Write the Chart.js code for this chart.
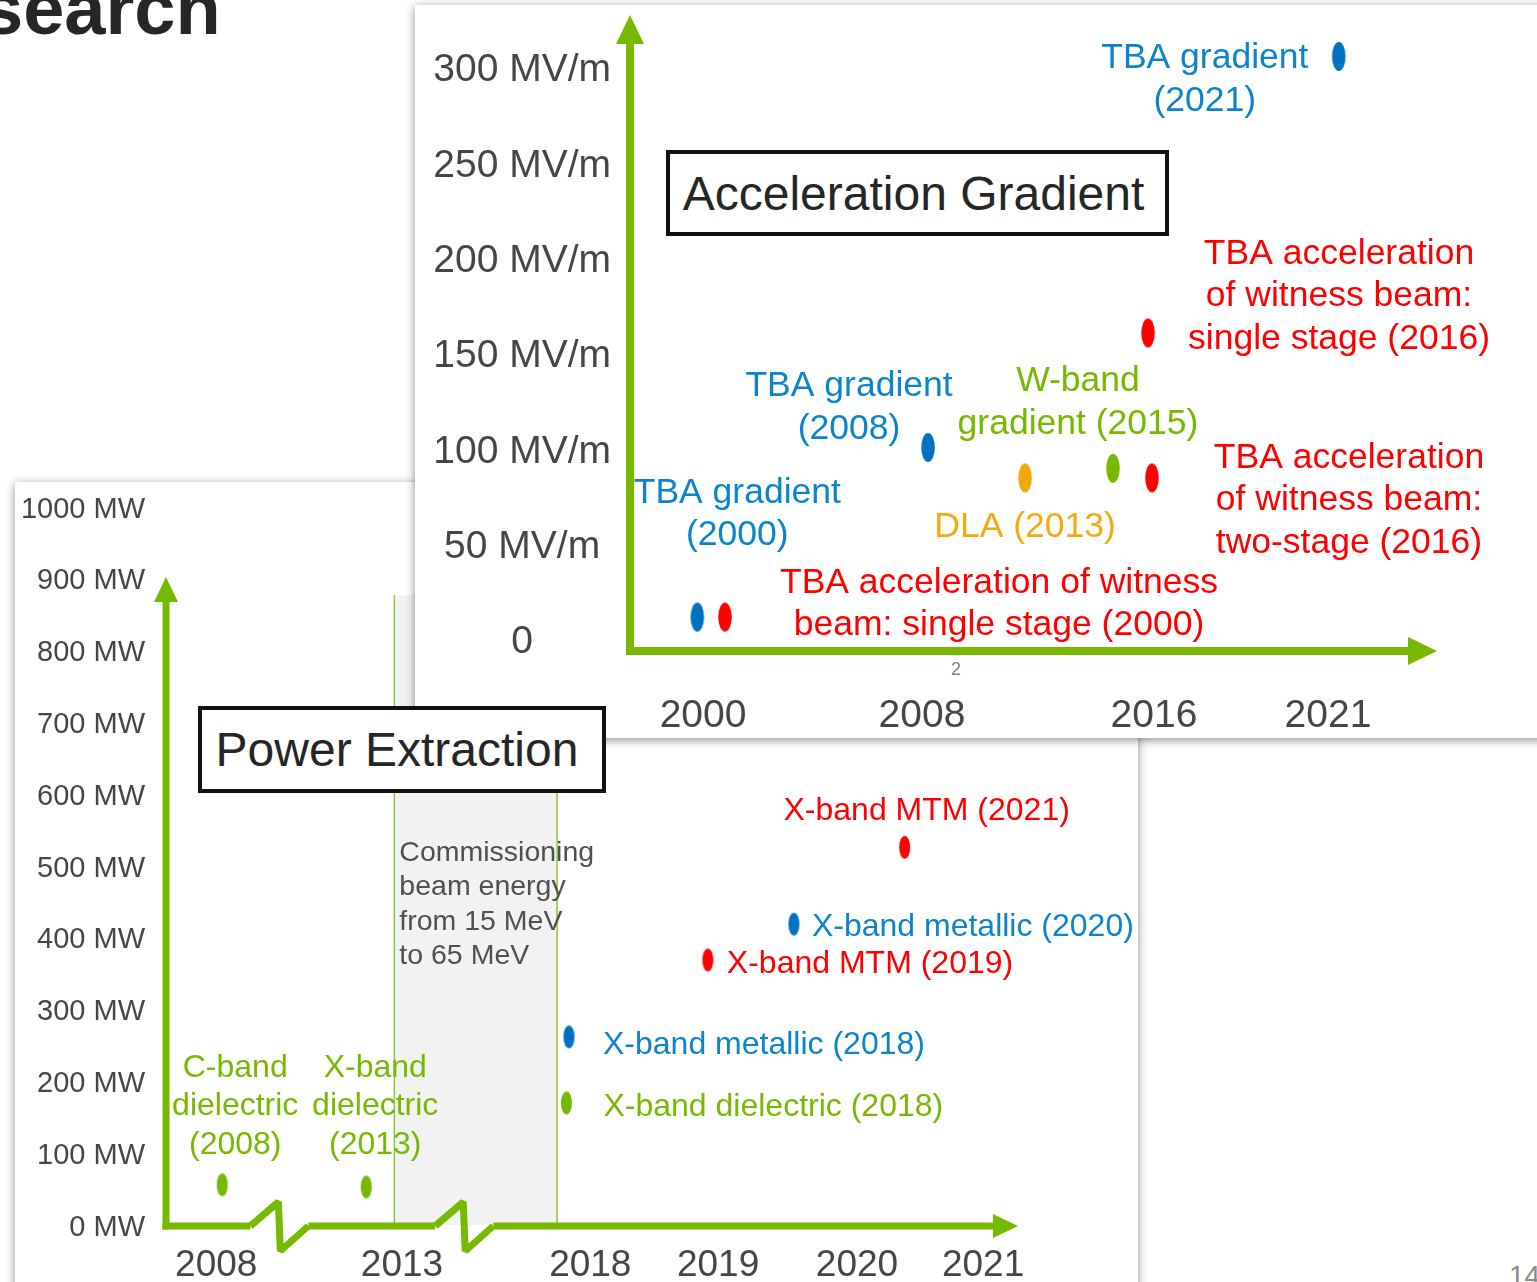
<!DOCTYPE html>
<html>
<head>
<meta charset="utf-8">
<script src="https://cdn.jsdelivr.net/npm/chart.js@4.4.1/dist/chart.umd.min.js"></script>
<style>
  html, body { margin: 0; padding: 0; width: 1537px; height: 1282px; overflow: hidden; background: #fff; }
  body { position: relative; font-family: "Liberation Sans", Arial, Helvetica, sans-serif; }
  .panel { position: absolute; background: #fff; box-shadow: 0 2px 9px rgba(0,0,0,0.45); }
  #powerPanel { left: 15px; top: 482px; width: 1123px; height: 830px; z-index: 1; }
  #gradPanel { left: 415px; top: 5px; width: 1140px; height: 733px; z-index: 2; }
  .panel canvas { position: absolute; left: 0; top: 0; }
  .title { position: absolute; left: -18px; top: -28px; font-weight: bold; font-size: 74px; line-height: 74px; color: #262626; white-space: nowrap; }
  .pageno { position: absolute; left: 1509px; top: 1262px; font-size: 28px; line-height: 28px; color: #8c8c8c; }
  .boxed { position: absolute; box-sizing: border-box; border: 4px solid #111; background: #fff;
           display: flex; align-items: center; justify-content: center; font-size: 48px; color: #262626; white-space: nowrap; }
  #powerBox { left: 198px; top: 706px; width: 408px; height: 87px; z-index: 3; padding-right: 10px; }
  #gradBox { left: 251px; top: 145px; width: 503px; height: 86px; z-index: 3; padding-right: 8px; }
  .slideno { position: absolute; left: 536px; top: 654px; width: 10px; text-align: center; font-size: 18px; line-height: 20px; color: #7f7f7f; }
</style>
</head>
<body>
<div class="title">search</div>
<div class="pageno">14</div>

<div id="powerPanel" class="panel"><canvas id="power" width="1123" height="800"></canvas></div>
<div id="powerBox" class="boxed">Power Extraction</div>

<div id="gradPanel" class="panel">
  <canvas id="gradient" width="1140" height="733"></canvas>
  <div id="gradBox" class="boxed">Acceleration Gradient</div>
  <div class="slideno">2</div>
</div>

<script>
// ---------- Power extraction milestones ----------
const powerNotes = [
  'C-band\ndielectric\n(2008)',
  'X-band\ndielectric\n(2013)',
  'X-band dielectric (2018)',
  'X-band metallic (2018)',
  'X-band MTM (2019)',
  'X-band metallic (2020)',
  'X-band MTM (2021)'
];
const powerKinds = ['dielectric', 'dielectric', 'dielectric', 'metallic', 'mtm', 'metallic', 'mtm'];
const powerTimeline = [6.6, 23.5, 47.0, 47.3, 63.6, 73.7, 86.7];   // position along the broken time axis
const powerMW = [56, 53, 170, 262, 369, 419, 526];
const powerYears = ['2008', '2013', '2018', '2019', '2020', '2021'];
const powerYearAt = [5.9, 27.7, 49.8, 64.8, 81.1, 95.9];
const powerTicks = [0, 100, 200, 300, 400, 500, 600, 700, 800, 900, 1000];
const powerTickLabels = ['0 MW', '100 MW', '200 MW', '300 MW', '400 MW', '500 MW', '600 MW', '700 MW', '800 MW', '900 MW', '1000 MW'];
const axisBreaksAt = [9.9, 31.6];
const commissioningSpan = [26.8, 45.9];
const commissioningTopMW = 877;
const commissioningText = ['Commissioning', 'beam energy', 'from 15 MeV', 'to 65 MeV'];

// ---------- Acceleration gradient milestones ----------
const gradNotes = [
  'TBA gradient\n(2000)',
  'TBA acceleration of witness\nbeam: single stage (2000)',
  'TBA gradient\n(2008)',
  'DLA (2013)',
  'W-band\ngradient (2015)',
  'TBA acceleration\nof witness beam:\ntwo-stage (2016)',
  'TBA acceleration\nof witness beam:\nsingle stage (2016)',
  'TBA gradient\n(2021)'
];
const gradKinds = ['tba', 'witness', 'tba', 'dla', 'wband', 'witness', 'witness', 'tba'];
const gradTimeline = [8.34, 11.77, 36.93, 48.95, 59.85, 64.68, 64.19, 87.83];
const gradMVm = [12, 12, 101, 85, 90, 85, 161, 306];
const gradYears = ['2000', '2008', '2016', '2021'];
const gradYearAt = [9.05, 36.18, 64.93, 86.49];
const gradTicks = [0, 50, 100, 150, 200, 250, 300];
const gradTickLabels = ['0', '50 MV/m', '100 MV/m', '150 MV/m', '200 MV/m', '250 MV/m', '300 MV/m'];

// ---------- styling ----------
const FAMILY = "'Liberation Sans', Arial, Helvetica, sans-serif";
Chart.defaults.font.family = FAMILY;
const GREEN = '#76b900';
const AXIS_TEXT = '#464646';
const kindStyle = {
  dielectric: { dot: GREEN, text: GREEN },
  metallic:   { dot: '#0070c0', text: '#0c84cc' },
  mtm:        { dot: '#ff0000', text: '#ff0000' },
  tba:        { dot: '#0070c0', text: '#0c84cc' },
  witness:    { dot: '#ff0000', text: '#ff0000' },
  dla:        { dot: '#f2a50c', text: '#f5aa10' },
  wband:      { dot: GREEN, text: GREEN }
};

// note placement relative to its mark: anchor offset (px) and text alignment
const powerNoteLayout = [
  { dx: 13, dy: -117, align: 'center' },
  { dx: 9, dy: -119, align: 'center' },
  { dx: 37, dy: 4, align: 'left' },
  { dx: 34, dy: 8, align: 'left' },
  { dx: 19, dy: 4, align: 'left' },
  { dx: 18, dy: 3, align: 'left' },
  { dx: 22, dy: -36, align: 'center' }
];
const gradNoteLayout = [
  { dx: 40, dy: -124, align: 'center' },
  { dx: 274, dy: -34, align: 'center' },
  { dx: -79, dy: -61, align: 'center' },
  { dx: 0, dy: 49, align: 'center' },
  { dx: -35, dy: -87, align: 'center' },
  { dx: 197, dy: -20, align: 'center' },
  { dx: 191, dy: -79, align: 'center' },
  { dx: -134, dy: 2, align: 'center' }
];

// elliptical marker images
function makeDot(color, w, h) {
  const c = document.createElement('canvas');
  c.width = Math.ceil(w) + 2; c.height = Math.ceil(h) + 2;
  const g = c.getContext('2d');
  g.fillStyle = color;
  g.beginPath();
  g.ellipse(c.width / 2, c.height / 2, w / 2, h / 2, 0, 0, Math.PI * 2);
  g.fill();
  return c;
}
function dotSet(w, h) {
  const out = {};
  Object.keys(kindStyle).forEach(k => out[k] = makeDot(kindStyle[k].dot, w, h));
  return out;
}
const powerDots = dotSet(11, 23);
const gradDots = dotSet(13.5, 29);

function notesPlugin(texts, kinds, layout, size, lineHeight) {
  return {
    id: 'notes',
    afterDatasetsDraw(chart) {
      const ctx = chart.ctx;
      const pts = chart.getDatasetMeta(0).data;
      ctx.save();
      ctx.font = size + 'px ' + FAMILY;
      ctx.textBaseline = 'middle';
      texts.forEach((t, i) => {
        const p = pts[i], L = layout[i];
        ctx.fillStyle = kindStyle[kinds[i]].text;
        ctx.textAlign = L.align;
        t.split('\n').forEach((line, k) => ctx.fillText(line, p.x + L.dx, p.y + L.dy + k * lineHeight));
      });
      ctx.restore();
    }
  };
}

function arrowHead(ctx, tipX, tipY, dir, len, width) {
  ctx.beginPath();
  if (dir === 'up') {
    ctx.moveTo(tipX, tipY);
    ctx.lineTo(tipX + width / 2, tipY + len);
    ctx.lineTo(tipX - width / 2, tipY + len);
  } else {
    ctx.moveTo(tipX, tipY);
    ctx.lineTo(tipX - len, tipY - width / 2);
    ctx.lineTo(tipX - len, tipY + width / 2);
  }
  ctx.closePath();
  ctx.fill();
}

// green L-shaped axes with arrows (optionally with break marks)
function greenAxesPlugin(cfg) {
  return {
    id: 'greenAxes',
    beforeDatasetsDraw(chart) {
      const { ctx, chartArea: a, scales: { x, y } } = chart;
      const y0 = cfg.baseAtZero ? y.getPixelForValue(0) + cfg.baseShift : a.bottom;
      const xl = a.left;
      const topTip = a.top + cfg.topInset;
      ctx.save();
      ctx.strokeStyle = GREEN; ctx.fillStyle = GREEN;
      ctx.lineWidth = cfg.lw; ctx.lineCap = 'butt'; ctx.lineJoin = 'miter'; ctx.miterLimit = 2;
      // vertical shaft
      ctx.beginPath();
      ctx.moveTo(xl, y0 + cfg.lw / 2);
      ctx.lineTo(xl, topTip + cfg.headLen - 1);
      ctx.stroke();
      arrowHead(ctx, xl, topTip, 'up', cfg.headLen, cfg.headW);
      // horizontal shaft
      ctx.beginPath();
      ctx.moveTo(xl - cfg.lw / 2, y0);
      (cfg.breaks || []).forEach(b => {
        const bx = x.getPixelForValue(b);
        ctx.lineTo(bx, y0);
        ctx.stroke();
        ctx.beginPath();
        ctx.moveTo(bx, y0);
        ctx.lineTo(bx + 28, y0 - 24);
        ctx.lineTo(bx + 30, y0 + 25);
        ctx.lineTo(bx + 58, y0);
        ctx.stroke();
        ctx.beginPath();
        ctx.moveTo(bx + 58, y0);
      });
      ctx.lineTo(a.right - cfg.headLen + 1, y0);
      ctx.stroke();
      arrowHead(ctx, a.right, y0, 'right', cfg.headLen, cfg.headW);
      ctx.restore();
    }
  };
}

// shaded commissioning period
const commissioningPlugin = {
  id: 'commissioning',
  beforeDatasetsDraw(chart) {
    const { ctx, scales: { x, y } } = chart;
    const l = x.getPixelForValue(commissioningSpan[0]);
    const r = x.getPixelForValue(commissioningSpan[1]);
    const t = y.getPixelForValue(commissioningTopMW);
    const b = y.getPixelForValue(0);
    ctx.save();
    ctx.fillStyle = '#f2f2f2';
    ctx.fillRect(l, t, r - l, b - t);
    ctx.strokeStyle = '#8cc43a';
    ctx.lineWidth = 1.5;
    ctx.beginPath();
    ctx.moveTo(l, t); ctx.lineTo(l, b);
    ctx.moveTo(r, t); ctx.lineTo(r, b);
    ctx.stroke();
    ctx.restore();
  },
  afterDatasetsDraw(chart) {
    const { ctx, scales: { x, y } } = chart;
    const l = x.getPixelForValue(commissioningSpan[0]);
    const t = y.getPixelForValue(commissioningTopMW);
    ctx.save();
    ctx.font = '28.5px ' + FAMILY;
    ctx.fillStyle = '#505050';
    ctx.textAlign = 'left';
    ctx.textBaseline = 'middle';
    commissioningText.forEach((s, k) => ctx.fillText(s, l + 5, t + 258 + k * 34.3));
    ctx.restore();
  }
};

function zeroPadsX(s, h) { s.height = h; s.paddingLeft = 0; s.paddingRight = 0; }
function zeroPadsY(s, w) { s.width = w; s.paddingTop = 0; s.paddingBottom = 0; }

// ---------- Power extraction chart ----------
new Chart(document.getElementById('power'), {
  type: 'scatter',
  data: {
    datasets: [{
      label: 'Power extraction',
      data: powerTimeline.map((t, i) => ({ x: t, y: powerMW[i] })),
      pointStyle: c => powerDots[powerKinds[c.dataIndex]],
      pointRadius: 12,
      showLine: false
    }]
  },
  options: {
    responsive: false, animation: false, devicePixelRatio: 1,
    layout: { padding: { top: 25, right: 120, left: 0, bottom: 0 } },
    plugins: { legend: { display: false }, tooltip: { enabled: false } },
    scales: {
      x: {
        type: 'linear', min: 0, max: 100,
        grid: { display: false, drawTicks: false }, border: { display: false },
        afterBuildTicks: s => { s.ticks = powerYearAt.map(v => ({ value: v })); },
        ticks: { autoSkip: false, maxRotation: 0, minRotation: 0, padding: 19, color: AXIS_TEXT,
                 font: { size: 37 }, callback: (v, i) => powerYears[i] },
        afterFit: s => zeroPadsX(s, 57)
      },
      y: {
        type: 'linear', min: 0, max: 1000,
        grid: { display: false, drawTicks: false }, border: { display: false },
        afterBuildTicks: s => { s.ticks = powerTicks.map(v => ({ value: v })); },
        ticks: { autoSkip: false, padding: 21, labelOffset: 2.5, color: AXIS_TEXT, font: { size: 29 },
                 callback: (v, i) => powerTickLabels[i] },
        afterFit: s => zeroPadsY(s, 151)
      }
    }
  },
  plugins: [
    commissioningPlugin,
    greenAxesPlugin({ lw: 7, headLen: 25, headW: 24, topInset: 70, baseAtZero: true, baseShift: 1, breaks: axisBreaksAt }),
    notesPlugin(powerNotes, powerKinds, powerNoteLayout, 32, 38.5)
  ]
});

// ---------- Acceleration gradient chart ----------
new Chart(document.getElementById('gradient'), {
  type: 'scatter',
  data: {
    datasets: [{
      label: 'Acceleration gradient',
      data: gradTimeline.map((t, i) => ({ x: t, y: gradMVm[i] })),
      pointStyle: c => gradDots[gradKinds[c.dataIndex]],
      pointRadius: 15,
      showLine: false
    }]
  },
  options: {
    responsive: false, animation: false, devicePixelRatio: 1,
    layout: { padding: { top: 10, right: 118, left: 0, bottom: 0 } },
    plugins: { legend: { display: false }, tooltip: { enabled: false } },
    scales: {
      x: {
        type: 'linear', min: 0, max: 100,
        grid: { display: false, drawTicks: false }, border: { display: false },
        afterBuildTicks: s => { s.ticks = gradYearAt.map(v => ({ value: v })); },
        ticks: { autoSkip: false, maxRotation: 0, minRotation: 0, padding: 41.5, color: AXIS_TEXT,
                 font: { size: 39 }, callback: (v, i) => gradYears[i] },
        afterFit: s => zeroPadsX(s, 87)
      },
      y: {
        type: 'linear', min: -5.77, max: 324.6,
        grid: { display: false, drawTicks: false }, border: { display: false },
        afterBuildTicks: s => { s.ticks = gradTicks.map(v => ({ value: v })); },
        ticks: { autoSkip: false, padding: 19, labelOffset: 2.5, crossAlign: 'center', color: AXIS_TEXT, font: { size: 39 },
                 callback: (v, i) => gradTickLabels[i] },
        afterFit: s => zeroPadsY(s, 215)
      }
    }
  },
  plugins: [
    greenAxesPlugin({ lw: 8, headLen: 29, headW: 28, topInset: -6, baseAtZero: false, breaks: [] }),
    notesPlugin(gradNotes, gradKinds, gradNoteLayout, 35.5, 42.5)
  ]
});
</script>
</body>
</html>
